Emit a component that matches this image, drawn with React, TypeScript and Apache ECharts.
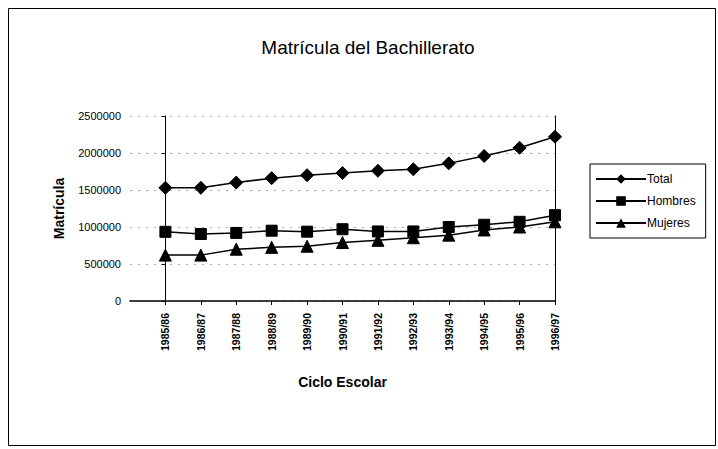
import React, { useEffect, useRef } from "react";
import * as echarts from "echarts";

const categories = ["1985/86", "1986/87", "1987/88", "1988/89", "1989/90", "1990/91", "1991/92", "1992/93", "1993/94", "1994/95", "1995/96", "1996/97"];
const total = [1530000, 1530000, 1600000, 1660000, 1700000, 1730000, 1760000, 1780000, 1860000, 1960000, 2070000, 2220000];
const hombres = [935000, 905000, 920000, 950000, 937000, 970000, 940000, 940000, 1000000, 1030000, 1070000, 1160000];
const mujeres = [620000, 620000, 700000, 725000, 740000, 790000, 820000, 855000, 890000, 960000, 1000000, 1070000];
const yTicks = [0, 500000, 1000000, 1500000, 2000000, 2500000];

const FONT = "'Liberation Sans', Arial, sans-serif";

export default function App() {
  const ref = useRef<HTMLDivElement>(null);
  useEffect(() => {
    if (!ref.current) return;
    const chart = echarts.init(ref.current, undefined, { renderer: "svg" });
    const mk = (name: string, data: number[], symbol: string, size: number) => ({
      name,
      type: "line",
      data: data.map((v, i) => [i, v]),
      symbol,
      symbolSize: size,
      showSymbol: true,
      lineStyle: { color: "#000", width: 1.5 },
      itemStyle: { color: "#000", borderColor: "#000" },
    });
    chart.setOption({
      animation: false,
      backgroundColor: "#fff",
      textStyle: { fontFamily: FONT },
      title: {
        text: "Matrícula del Bachillerato",
        left: 363,
        top: 33,
        textAlign: "center",
        textStyle: { fontFamily: FONT, fontSize: 19, fontWeight: "normal", color: "#000" },
      },
      graphic: [
        {
          type: "rect",
          shape: { x: 8.5, y: 8.5, width: 707, height: 437 },
          style: { fill: "none", stroke: "#000", lineWidth: 1 },
          silent: true,
        },
      ],
      legend: {
        orient: "vertical",
        left: 590,
        top: 164,
        data: ["Total", "Hombres", "Mujeres"],
        itemWidth: 50,
        itemHeight: 12,
        itemGap: 10,
        padding: [9, 10, 9, 5],
        borderColor: "#000",
        borderWidth: 1,
        textStyle: { fontFamily: FONT, fontSize: 12, color: "#000", padding: [0, 0, 0, -4] },
      },
      grid: { left: 130, right: 163, top: 116, bottom: 148, containLabel: false },
      xAxis: {
        type: "value",
        min: -1,
        max: 11,
        interval: 1,
        name: "Ciclo Escolar",
        nameLocation: "middle",
        nameGap: 74,
        nameTextStyle: { fontFamily: FONT, fontSize: 14, fontWeight: "bold", color: "#000" },
        axisLine: { lineStyle: { color: "#000", width: 1.5 } },
        axisTick: { show: true, length: 4, lineStyle: { color: "#000" } },
        splitLine: { show: false },
        axisLabel: {
          rotate: 90,
          fontFamily: FONT,
          fontSize: 10.5,
          fontWeight: "bold",
          color: "#000",
          margin: 12,
          showMinLabel: false,
          formatter: (v: number) => categories[v] ?? "",
        },
      },
      yAxis: [
        {
          type: "value",
          min: 0,
          max: 2500000,
          interval: 500000,
          name: "Matrícula",
          nameLocation: "middle",
          nameGap: 64,
          nameTextStyle: { fontFamily: FONT, fontSize: 14, fontWeight: "bold", color: "#000" },
          axisLine: { show: true, lineStyle: { color: "#000", width: 1 } },
          axisTick: { show: true, length: 4, lineStyle: { color: "#000" } },
          axisLabel: {
            fontFamily: FONT,
            fontSize: 11,
            color: "#000",
            margin: 9,
            formatter: (v: number) => (yTicks.includes(v) ? String(v) : ""),
          },
          splitLine: { show: true, lineStyle: { color: "#aaa", type: [2, 6], width: 1 } },
        },
        {
          type: "value",
          min: 0,
          max: 2500000,
          interval: 500000,
          position: "right",
          axisLine: { show: true, lineStyle: { color: "#000", width: 1 } },
          axisTick: { show: false },
          axisLabel: { show: false },
          splitLine: { show: false },
        },
      ],
      series: [
        mk("Total", total, "diamond", 13),
        mk("Hombres", hombres, "rect", 11),
        mk("Mujeres", mujeres, "triangle", 12),
      ],
    });
    return () => chart.dispose();
  }, []);
  return <div ref={ref} style={{ width: 718, height: 449, position: "absolute", left: 0, top: 0 }} />;
}
